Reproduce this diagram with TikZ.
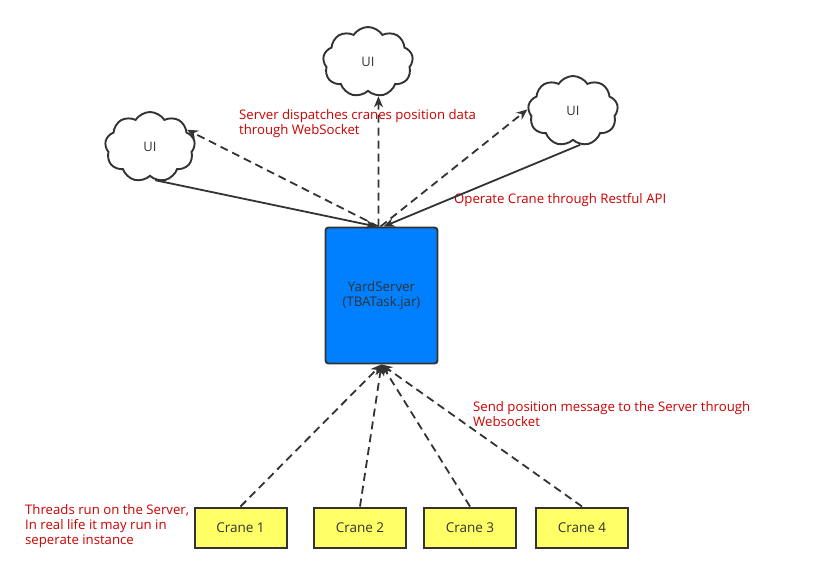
\documentclass[tikz,border=0pt]{standalone}
\usepackage{fontspec}
\setmainfont{Open Sans}
\usetikzlibrary{arrows.meta,shapes.symbols,calc}
\definecolor{ink}{HTML}{333333}
\definecolor{lab}{HTML}{CC0000}
\definecolor{srvblue}{HTML}{007FFF}
\definecolor{crane}{HTML}{FFFF66}
\tikzset{
  uicloud/.style={cloud, cloud puffs=9, cloud puff arc=115, aspect=1.3,
    draw=ink, line width=1.9pt, fill=white, minimum width=90pt, minimum height=70pt,
    inner sep=0pt, text=ink, font=\fontsize{13}{15}\selectfont},
  srvbox/.style={draw=ink, line width=1.9pt, fill=srvblue, rounded corners=3pt,
    minimum width=112pt, minimum height=136pt, inner sep=0pt, align=center,
    text=ink, font=\fontsize{13.3}{15}\selectfont},
  cranebox/.style={draw=ink, line width=2pt, fill=crane, minimum width=92pt,
    minimum height=40pt, inner sep=0pt, text=ink, font=\fontsize{13.5}{15}\selectfont},
  note/.style={text=lab, align=left, anchor=north west, inner sep=0pt,
    font=\fontsize{13.2}{15}\selectfont},
  solidarrow/.style={draw=ink, line width=1.8pt, -{Stealth[length=11pt,width=9pt]}},
  dasharrow/.style={draw=ink, line width=1.8pt, dash pattern=on 8pt off 5pt,
    -{Stealth[length=11pt,width=9pt]}}
}
\begin{document}
\begin{tikzpicture}[x=1pt,y=-1pt]
\useasboundingbox (0,0) rectangle (813,573);
\fill[white] (0,0) rectangle (813,573);

\node[uicloud] (lui) at (150,147) {UI};
\node[uicloud] (tui) at (368,62) {UI};
\node[uicloud] (rui) at (573,111) {UI};

\node[srvbox] (srv) at (381.5,295.5) {YardServer\\(TBATask.jar)};

\node[cranebox] (c1) at (240.5,527.5) {Crane 1};
\node[cranebox] (c2) at (360,527.5) {Crane 2};
\node[cranebox] (c3) at (470,527.5) {Crane 3};
\node[cranebox] (c4) at (582,527.5) {Crane 4};

\node[note] (n1) at (239,109) {Server dispatches cranes position data\\through WebSocket};
\node[note] (n2) at (454,193) {Operate Crane through Restful API};
\node[note] (n3) at (473,401) {Send position message to the Server through\\Websocket};
\node[note] (n4) at (25,504) {Threads run on the Server,\\In real life it may run in\\seperate instance};

% solid: UI -> server
\draw[solidarrow] (lui.-81) -- ($(srv.north)+(-5,0)$);
\draw[solidarrow] (rui.-78) -- ($(srv.north)+(2,0)$);

% dashed: server -> UI
\draw[dasharrow] ($(srv.north)+(-3,0)$) -- (lui.25);
\draw[dasharrow] ($(srv.north)+(-3,0)$) -- (tui.-73);
\draw[dasharrow] ($(srv.north)+(-1,0)$) -- (rui.178);

% dashed: cranes -> server
\draw[dasharrow] (c1.north) -- (srv.south);
\draw[dasharrow] (c2.north) -- (srv.south);
\draw[dasharrow] (c3.north) -- (srv.south);
\draw[dasharrow] (c4.north) -- (srv.south);
\end{tikzpicture}
\end{document}
